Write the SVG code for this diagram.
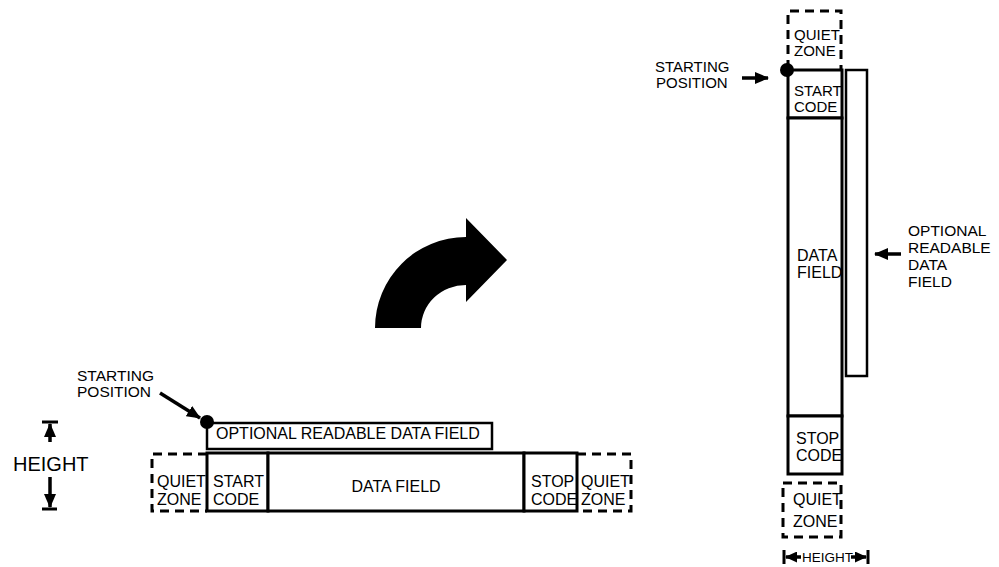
<svg xmlns="http://www.w3.org/2000/svg" width="999" height="567" viewBox="0 0 999 567">
<defs>
<style>
text{font-family:"Liberation Sans",Arial,sans-serif;fill:#000}
.lbl{font-size:16px}
.sm{font-size:15px}
.sp{font-size:15.5px}
.box{fill:#fff;stroke:#000;stroke-width:3}
.obox{fill:#fff;stroke:#000;stroke-width:2.5}
.dash{fill:none;stroke:#000;stroke-width:3;stroke-dasharray:9,6}
.ln{fill:none;stroke:#000;stroke-width:3.5}
.bar{fill:none;stroke:#000;stroke-width:3}
</style>
<marker id="ah" markerUnits="userSpaceOnUse" markerWidth="14" markerHeight="12" refX="13" refY="6" orient="auto">
<path d="M0,0 L14,6 L0,12 Z" fill="#000"/>
</marker>
<marker id="ahs" markerUnits="userSpaceOnUse" markerWidth="12" markerHeight="11" refX="11" refY="5.5" orient="auto">
<path d="M0,0 L12,5.5 L0,11 Z" fill="#000"/>
</marker>
</defs>
<rect width="999" height="567" fill="#fff"/>

<g id="curved-arrow">
<path d="M375,328 A91,91 0 0 1 466,237 L466,218 L507,260 L466,302 L466,285 A45,43 0 0 0 421,328 Z" fill="#000"/>
</g>

<g id="left-height">
<line class="bar" x1="42" y1="422" x2="58" y2="422"/>
<line class="bar" x1="42" y1="509" x2="57" y2="509"/>
<text x="13" y="471" style="font-size:20px">HEIGHT</text>
</g>

<g id="left-starting-position">
<text class="sp" x="77" y="381">STARTING</text>
<text class="sp" x="77" y="397">POSITION</text>
</g>

<g id="left-optional-field">
<rect class="obox" x="207" y="423" width="285" height="26"/>
<text class="lbl" x="216" y="439">OPTIONAL READABLE DATA FIELD</text>
</g>

<g id="left-quiet-zone-1">
<path class="dash" d="M207,454 L152,454 L152,511 L207,511"/>
<text class="lbl" x="157" y="487">QUIET</text>
<text class="lbl" x="157" y="505">ZONE</text>
</g>

<g id="left-start-code">
<rect class="box" x="207" y="453" width="61" height="58"/>
<text class="lbl" x="213" y="487">START</text>
<text class="lbl" x="213" y="505">CODE</text>
</g>

<g id="left-data-field">
<rect class="box" x="268" y="453" width="256" height="58"/>
<text class="lbl" x="396" y="492" text-anchor="middle">DATA FIELD</text>
</g>

<g id="left-stop-code">
<rect class="box" x="524" y="453" width="53" height="58"/>
<text class="lbl" x="531" y="487">STOP</text>
<text class="lbl" x="531" y="505">CODE</text>
</g>

<g id="left-quiet-zone-2">
<path class="dash" d="M577,454 L631,454 L631,511 L577,511"/>
<text class="lbl" x="581" y="487">QUIET</text>
<text class="lbl" x="581" y="505">ZONE</text>
</g>

<g id="left-dot">
<circle cx="207" cy="422" r="7" fill="#000"/>
</g>

<g id="right-quiet-zone-top">
<path class="dash" d="M788,69 L788,11 L841,11 L841,69"/>
<text class="sm" x="794" y="40">QUIET</text>
<text class="sm" x="794" y="56">ZONE</text>
</g>

<g id="right-start-code">
<rect class="box" x="788" y="70" width="54" height="48"/>
<text class="sm" x="794" y="96">START</text>
<text class="sm" x="794" y="112">CODE</text>
</g>

<g id="right-data-field">
<rect class="box" x="788" y="118" width="54" height="298"/>
<text class="lbl" x="797" y="261">DATA</text>
<text class="lbl" x="797" y="278">FIELD</text>
</g>

<g id="right-stop-code">
<rect class="box" x="788" y="416" width="54" height="58"/>
<text class="lbl" x="796" y="444">STOP</text>
<text class="lbl" x="796" y="461">CODE</text>
</g>

<g id="right-quiet-zone-bottom">
<rect class="dash" x="783" y="483" width="58" height="54"/>
<text class="lbl" x="793" y="505">QUIET</text>
<text class="lbl" x="793" y="527">ZONE</text>
</g>

<g id="right-optional-field">
<rect class="obox" x="846" y="70" width="21" height="306"/>
</g>

<g id="right-dot">
<circle cx="787" cy="70" r="7" fill="#000"/>
</g>

<g id="right-starting-position">
<text class="sm" x="655" y="72">STARTING</text>
<text class="sm" x="656" y="88">POSITION</text>
</g>

<g id="right-optional-label">
<text class="sp" x="908" y="236">OPTIONAL</text>
<text class="sp" x="908" y="253">READABLE</text>
<text class="sp" x="908" y="270">DATA</text>
<text class="sp" x="908" y="287">FIELD</text>
</g>

<g id="right-height">
<line class="bar" x1="784" y1="550" x2="784" y2="564"/>
<line class="bar" x1="868" y1="550" x2="868" y2="564"/>
<text x="802" y="562" style="font-size:13.5px">HEIGHT</text>
</g>

<g id="connectors">
<line class="ln" x1="50" y1="442" x2="50" y2="424" marker-end="url(#ah)"/>
<line class="ln" x1="50" y1="477" x2="50" y2="507" marker-end="url(#ah)"/>
<line class="ln" x1="160" y1="393" x2="200" y2="418" marker-end="url(#ah)"/>
<line class="ln" x1="742" y1="78" x2="768" y2="78" marker-end="url(#ah)"/>
<line class="ln" x1="901" y1="254" x2="875" y2="254" marker-end="url(#ah)"/>
<line class="ln" x1="801" y1="557" x2="786" y2="557" marker-end="url(#ahs)"/>
<line class="ln" x1="851" y1="557" x2="866" y2="557" marker-end="url(#ahs)"/>
</g>
</svg>
